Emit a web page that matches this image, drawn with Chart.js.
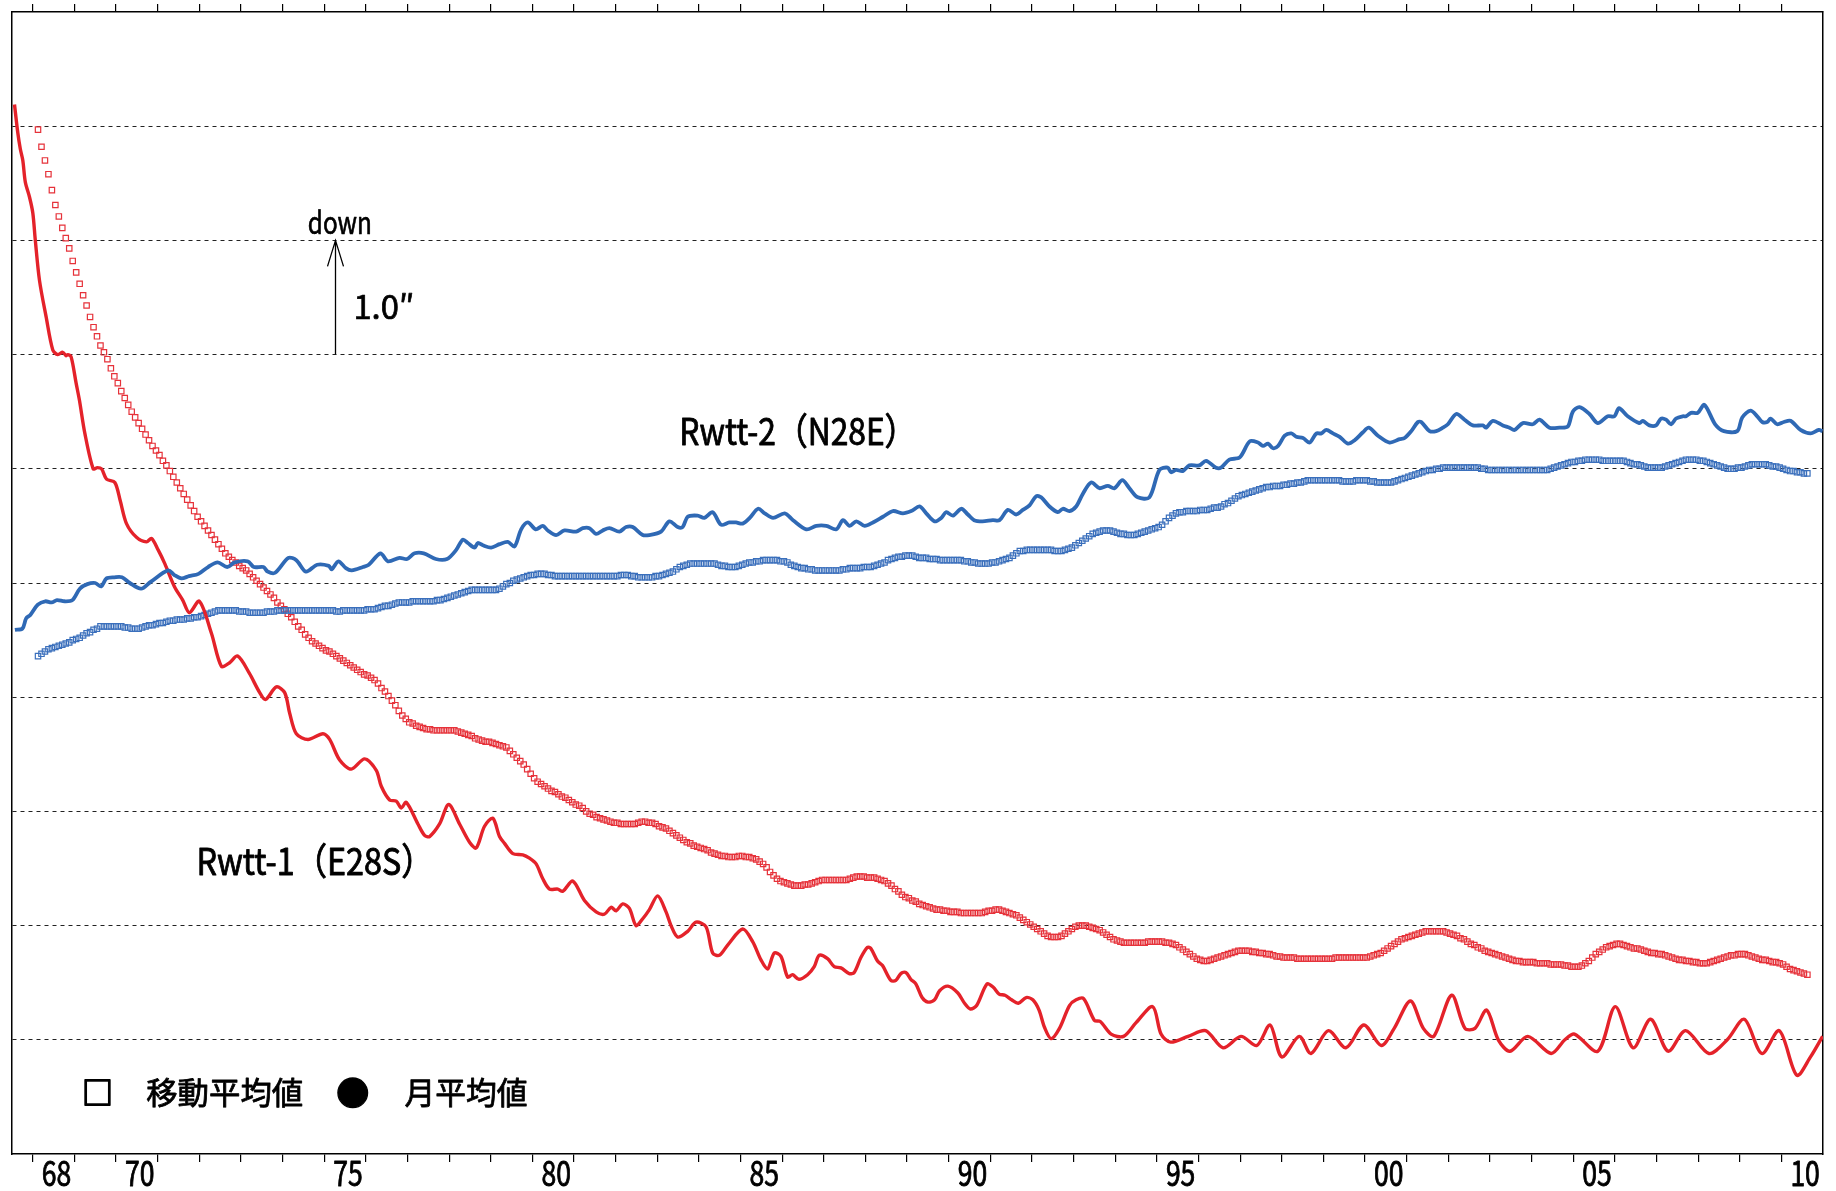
<!DOCTYPE html>
<html lang="ja">
<head>
<meta charset="utf-8">
<title>Rwtt-1 / Rwtt-2</title>
<script src="https://cdn.jsdelivr.net/npm/chart.js@4.4.1/dist/chart.umd.min.js"></script>
<style>
  html, body { margin: 0; padding: 0; background: #fff; }
  canvas { display: block; }
</style>
</head>
<body>
<canvas id="chart" width="1836" height="1191"></canvas>
<script>
// 値は 1 目盛 = 1.0″ の相対値（下が 0、上が 10）

const labelYears = [1968, 1970, 1975, 1980, 1985, 1990, 1995, 2000, 2005, 2010];
const seriesNames = ['Rwtt-1（E28S）', 'Rwtt-2（N28E）'];
const legendItems = ['□', '移動平均値', '●', '月平均値'];

// 月平均値 [年, 値]
const rwtt1Monthly = [
  [1967.56, 9.19], [1967.64, 8.94], [1967.70, 8.80], [1967.76, 8.70], [1967.82, 8.51], [1967.92, 8.38],
  [1968.00, 8.24], [1968.06, 8.00], [1968.16, 7.65], [1968.32, 7.33], [1968.48, 7.04], [1968.60, 7.00],
  [1968.72, 7.02], [1968.80, 6.99], [1968.84, 7.00], [1968.92, 6.98], [1969.04, 6.75], [1969.12, 6.60],
  [1969.25, 6.31], [1969.45, 6.00], [1969.55, 6.01], [1969.65, 6.00], [1969.77, 5.91], [1969.97, 5.88],
  [1970.10, 5.72], [1970.25, 5.52], [1970.49, 5.40], [1970.73, 5.36], [1970.85, 5.39], [1971.01, 5.29],
  [1971.17, 5.17], [1971.40, 4.97], [1971.60, 4.85], [1971.76, 4.74], [1972.00, 4.84], [1972.29, 4.56],
  [1972.53, 4.27], [1972.72, 4.30], [1972.92, 4.36], [1973.20, 4.21], [1973.45, 4.04], [1973.59, 3.98],
  [1973.85, 4.09], [1974.05, 4.04], [1974.17, 3.86], [1974.33, 3.68], [1974.61, 3.63], [1974.97, 3.68],
  [1975.13, 3.63], [1975.37, 3.45], [1975.65, 3.37], [1975.97, 3.46], [1976.25, 3.36], [1976.37, 3.22],
  [1976.57, 3.10], [1976.73, 3.09], [1976.85, 3.03], [1976.97, 3.08], [1977.25, 2.89], [1977.41, 2.79],
  [1977.53, 2.78], [1977.77, 2.89], [1977.99, 3.06], [1978.25, 2.89], [1978.49, 2.73], [1978.65, 2.68],
  [1978.85, 2.87], [1979.05, 2.94], [1979.21, 2.78], [1979.33, 2.72], [1979.53, 2.63], [1979.77, 2.62],
  [1979.93, 2.59], [1980.09, 2.54], [1980.25, 2.41], [1980.41, 2.32], [1980.61, 2.32], [1980.73, 2.30],
  [1980.97, 2.39], [1981.25, 2.22], [1981.53, 2.12], [1981.73, 2.10], [1981.89, 2.16], [1982.01, 2.13],
  [1982.17, 2.19], [1982.33, 2.15], [1982.49, 2.00], [1982.65, 2.06], [1982.81, 2.14], [1983.01, 2.26],
  [1983.21, 2.12], [1983.33, 2.00], [1983.49, 1.90], [1983.73, 1.95], [1983.93, 2.03], [1984.17, 1.99],
  [1984.33, 1.76], [1984.49, 1.74], [1984.69, 1.83], [1985.05, 1.97], [1985.29, 1.86], [1985.49, 1.70],
  [1985.65, 1.62], [1985.81, 1.76], [1985.97, 1.73], [1986.13, 1.55], [1986.25, 1.57], [1986.40, 1.53],
  [1986.61, 1.57], [1986.77, 1.64], [1986.89, 1.74], [1987.09, 1.71], [1987.25, 1.64], [1987.41, 1.63],
  [1987.61, 1.58], [1987.73, 1.59], [1987.89, 1.72], [1988.05, 1.81], [1988.13, 1.80], [1988.29, 1.69],
  [1988.41, 1.65], [1988.61, 1.52], [1988.73, 1.52], [1988.85, 1.58], [1988.97, 1.59], [1989.09, 1.53],
  [1989.21, 1.49], [1989.36, 1.37], [1989.50, 1.33], [1989.66, 1.35], [1989.78, 1.43], [1989.98, 1.47],
  [1990.22, 1.41], [1990.38, 1.32], [1990.52, 1.27], [1990.67, 1.30], [1990.92, 1.49], [1991.07, 1.46],
  [1991.21, 1.40], [1991.35, 1.39], [1991.51, 1.35], [1991.67, 1.32], [1991.86, 1.37], [1992.02, 1.35],
  [1992.17, 1.26], [1992.30, 1.11], [1992.46, 1.01], [1992.66, 1.10], [1992.90, 1.30], [1993.06, 1.35],
  [1993.24, 1.36], [1993.50, 1.17], [1993.64, 1.16], [1993.90, 1.05], [1994.20, 1.03], [1994.50, 1.15],
  [1994.90, 1.29], [1995.10, 1.05], [1995.33, 0.98], [1995.75, 1.03], [1996.17, 1.08], [1996.59, 0.93],
  [1997.02, 1.03], [1997.40, 0.95], [1997.72, 1.13], [1998.00, 0.85], [1998.42, 1.03], [1998.70, 0.88],
  [1999.12, 1.08], [1999.54, 0.93], [1999.97, 1.13], [2000.39, 0.95], [2000.70, 1.10], [2001.09, 1.34],
  [2001.40, 1.10], [2001.65, 1.03], [2002.08, 1.39], [2002.40, 1.10], [2002.64, 1.10], [2002.92, 1.26],
  [2003.20, 1.00], [2003.48, 0.90], [2003.91, 1.03], [2004.47, 0.88], [2004.80, 1.00], [2005.03, 1.05],
  [2005.59, 0.90], [2006.01, 1.29], [2006.44, 0.93], [2006.86, 1.18], [2007.28, 0.90], [2007.70, 1.08],
  [2008.26, 0.88], [2008.70, 1.00], [2009.11, 1.18], [2009.53, 0.88], [2009.95, 1.08], [2010.37, 0.69],
  [2010.70, 0.85], [2010.99, 1.03]
];

const rwtt2Monthly = [
  [1967.57, 4.59], [1967.75, 4.60], [1967.84, 4.69], [1967.94, 4.72], [1968.12, 4.81], [1968.30, 4.84],
  [1968.45, 4.83], [1968.58, 4.85], [1968.76, 4.84], [1968.95, 4.85], [1969.13, 4.95], [1969.31, 4.99],
  [1969.50, 5.00], [1969.64, 4.97], [1969.77, 5.04], [1969.96, 5.05], [1970.14, 5.05], [1970.33, 5.00],
  [1970.60, 4.95], [1970.83, 5.01], [1971.25, 5.11], [1971.40, 5.07], [1971.57, 5.04], [1971.75, 5.06],
  [1971.98, 5.08], [1972.21, 5.14], [1972.44, 5.18], [1972.67, 5.14], [1972.85, 5.18], [1973.16, 5.19],
  [1973.31, 5.14], [1973.54, 5.14], [1973.64, 5.10], [1973.82, 5.09], [1974.14, 5.22], [1974.33, 5.20],
  [1974.56, 5.10], [1974.83, 5.16], [1975.11, 5.15], [1975.18, 5.12], [1975.34, 5.19], [1975.52, 5.13],
  [1975.66, 5.11], [1975.93, 5.14], [1976.07, 5.16], [1976.35, 5.26], [1976.53, 5.19], [1976.81, 5.22],
  [1976.99, 5.21], [1977.17, 5.26], [1977.39, 5.26], [1977.68, 5.21], [1977.95, 5.21], [1978.17, 5.29],
  [1978.33, 5.38], [1978.45, 5.35], [1978.61, 5.31], [1978.69, 5.35], [1978.81, 5.33], [1979.01, 5.31],
  [1979.21, 5.34], [1979.41, 5.36], [1979.57, 5.32], [1979.73, 5.47], [1979.89, 5.53], [1980.08, 5.47],
  [1980.25, 5.50], [1980.37, 5.46], [1980.57, 5.42], [1980.77, 5.46], [1981.05, 5.45], [1981.21, 5.48],
  [1981.37, 5.48], [1981.53, 5.43], [1981.69, 5.46], [1981.85, 5.48], [1982.09, 5.45], [1982.25, 5.49],
  [1982.41, 5.49], [1982.65, 5.42], [1982.81, 5.42], [1983.09, 5.45], [1983.29, 5.54], [1983.49, 5.49],
  [1983.61, 5.49], [1983.73, 5.58], [1983.97, 5.59], [1984.13, 5.57], [1984.33, 5.62], [1984.53, 5.51],
  [1984.73, 5.53], [1984.89, 5.53], [1985.05, 5.52], [1985.22, 5.57], [1985.42, 5.65], [1985.58, 5.61],
  [1985.78, 5.57], [1986.06, 5.61], [1986.26, 5.55], [1986.58, 5.47], [1986.82, 5.50], [1987.06, 5.50],
  [1987.30, 5.47], [1987.46, 5.55], [1987.62, 5.50], [1987.78, 5.54], [1987.98, 5.50], [1988.18, 5.53],
  [1988.42, 5.58], [1988.66, 5.63], [1988.90, 5.61], [1989.10, 5.63], [1989.30, 5.67], [1989.46, 5.61],
  [1989.66, 5.54], [1989.82, 5.57], [1989.94, 5.62], [1990.10, 5.59], [1990.30, 5.65], [1990.46, 5.60],
  [1990.61, 5.55], [1990.81, 5.54], [1991.06, 5.55], [1991.22, 5.55], [1991.42, 5.64], [1991.62, 5.60],
  [1991.78, 5.64], [1991.94, 5.68], [1992.10, 5.76], [1992.22, 5.75], [1992.42, 5.67], [1992.62, 5.62],
  [1992.74, 5.65], [1992.90, 5.63], [1993.06, 5.67], [1993.22, 5.78], [1993.42, 5.88], [1993.62, 5.83],
  [1993.82, 5.85], [1993.98, 5.83], [1994.17, 5.90], [1994.34, 5.83], [1994.54, 5.75], [1994.82, 5.75],
  [1995.06, 5.99], [1995.26, 6.01], [1995.34, 5.97], [1995.46, 5.99], [1995.62, 5.98], [1995.78, 6.03],
  [1996.02, 6.03], [1996.18, 6.07], [1996.42, 6.01], [1996.54, 6.01], [1996.74, 6.08], [1996.99, 6.10],
  [1997.23, 6.24], [1997.43, 6.23], [1997.55, 6.20], [1997.67, 6.22], [1997.79, 6.18], [1997.91, 6.20],
  [1998.07, 6.29], [1998.23, 6.31], [1998.35, 6.28], [1998.51, 6.27], [1998.67, 6.23], [1998.83, 6.31],
  [1998.95, 6.31], [1999.07, 6.34], [1999.23, 6.31], [1999.39, 6.28], [1999.59, 6.22], [1999.75, 6.25],
  [1999.95, 6.32], [2000.09, 6.36], [2000.31, 6.29], [2000.59, 6.23], [2000.83, 6.26], [2000.95, 6.27],
  [2001.11, 6.33], [2001.27, 6.41], [2001.35, 6.41], [2001.55, 6.33], [2001.71, 6.33], [2001.87, 6.36],
  [2001.99, 6.39], [2002.19, 6.48], [2002.39, 6.43], [2002.59, 6.38], [2002.83, 6.38], [2002.91, 6.36],
  [2003.07, 6.42], [2003.31, 6.38], [2003.47, 6.36], [2003.59, 6.34], [2003.79, 6.40], [2004.03, 6.39],
  [2004.19, 6.43], [2004.43, 6.36], [2004.67, 6.36], [2004.87, 6.37], [2004.99, 6.50], [2005.15, 6.54],
  [2005.39, 6.48], [2005.59, 6.40], [2005.83, 6.46], [2005.99, 6.46], [2006.10, 6.53], [2006.31, 6.46],
  [2006.59, 6.40], [2006.67, 6.42], [2006.83, 6.38], [2006.99, 6.38], [2007.11, 6.44], [2007.23, 6.43],
  [2007.35, 6.39], [2007.47, 6.44], [2007.63, 6.46], [2007.71, 6.46], [2007.83, 6.49], [2007.99, 6.49],
  [2008.15, 6.56], [2008.41, 6.39], [2008.62, 6.33], [2008.94, 6.33], [2009.06, 6.45], [2009.26, 6.51],
  [2009.42, 6.46], [2009.54, 6.41], [2009.66, 6.41], [2009.74, 6.44], [2009.90, 6.39], [2010.06, 6.41],
  [2010.22, 6.42], [2010.46, 6.34], [2010.70, 6.31], [2010.90, 6.34], [2010.99, 6.33]
];

// 移動平均値（月ごと、1968年2月から）
const maStart = 1968.125;

const rwtt1MovingAvg = [
  8.97, 8.82, 8.70, 8.58, 8.44, 8.31, 8.21, 8.11, 8.02, 7.93, 7.82, 7.72,
  7.62, 7.52, 7.43, 7.33, 7.24, 7.16, 7.08, 7.02, 6.96, 6.88, 6.81, 6.75,
  6.68, 6.62, 6.56, 6.50, 6.45, 6.40, 6.35, 6.30, 6.25, 6.20, 6.16, 6.12,
  6.07, 6.03, 5.98, 5.93, 5.88, 5.83, 5.78, 5.73, 5.68, 5.63, 5.58, 5.54,
  5.50, 5.46, 5.42, 5.38, 5.34, 5.30, 5.26, 5.23, 5.20, 5.18, 5.15, 5.13,
  5.11, 5.08, 5.05, 5.02, 4.99, 4.96, 4.93, 4.90, 4.87, 4.83, 4.80, 4.77,
  4.73, 4.70, 4.66, 4.62, 4.59, 4.55, 4.52, 4.49, 4.47, 4.45, 4.43, 4.41,
  4.40, 4.38, 4.36, 4.34, 4.32, 4.30, 4.28, 4.26, 4.24, 4.22, 4.20, 4.19,
  4.17, 4.15, 4.12, 4.08, 4.05, 4.01, 3.97, 3.93, 3.88, 3.84, 3.81, 3.78,
  3.77, 3.75, 3.74, 3.73, 3.72, 3.72, 3.71, 3.71, 3.71, 3.71, 3.71, 3.71,
  3.71, 3.70, 3.69, 3.68, 3.67, 3.66, 3.64, 3.63, 3.62, 3.61, 3.61, 3.60,
  3.59, 3.58, 3.57, 3.56, 3.53, 3.50, 3.47, 3.44, 3.41, 3.37, 3.33, 3.29,
  3.26, 3.24, 3.22, 3.20, 3.18, 3.17, 3.15, 3.13, 3.12, 3.10, 3.08, 3.06,
  3.05, 3.03, 3.00, 2.98, 2.97, 2.95, 2.94, 2.93, 2.92, 2.91, 2.90, 2.90,
  2.89, 2.89, 2.89, 2.89, 2.89, 2.90, 2.91, 2.91, 2.90, 2.90, 2.89, 2.87,
  2.86, 2.85, 2.83, 2.81, 2.79, 2.77, 2.75, 2.73, 2.72, 2.70, 2.69, 2.68,
  2.67, 2.66, 2.64, 2.63, 2.62, 2.61, 2.61, 2.60, 2.60, 2.60, 2.61, 2.61,
  2.60, 2.60, 2.59, 2.58, 2.56, 2.54, 2.51, 2.47, 2.44, 2.41, 2.39, 2.38,
  2.37, 2.36, 2.35, 2.35, 2.35, 2.36, 2.36, 2.37, 2.38, 2.39, 2.40, 2.40,
  2.40, 2.40, 2.40, 2.40, 2.40, 2.40, 2.41, 2.42, 2.43, 2.43, 2.43, 2.42,
  2.42, 2.42, 2.41, 2.40, 2.39, 2.37, 2.35, 2.32, 2.30, 2.27, 2.25, 2.24,
  2.22, 2.21, 2.19, 2.18, 2.17, 2.16, 2.15, 2.14, 2.14, 2.13, 2.13, 2.12,
  2.12, 2.12, 2.11, 2.11, 2.11, 2.11, 2.11, 2.11, 2.11, 2.12, 2.13, 2.13,
  2.14, 2.14, 2.13, 2.12, 2.11, 2.10, 2.09, 2.07, 2.05, 2.03, 2.01, 1.99,
  1.97, 1.95, 1.93, 1.91, 1.90, 1.90, 1.90, 1.91, 1.93, 1.95, 1.97, 1.99,
  2.00, 2.00, 2.00, 1.99, 1.98, 1.97, 1.96, 1.94, 1.92, 1.90, 1.88, 1.87,
  1.86, 1.85, 1.85, 1.85, 1.85, 1.85, 1.85, 1.85, 1.86, 1.86, 1.86, 1.86,
  1.86, 1.85, 1.85, 1.84, 1.83, 1.81, 1.79, 1.77, 1.75, 1.73, 1.71, 1.70,
  1.69, 1.69, 1.70, 1.71, 1.72, 1.73, 1.74, 1.75, 1.76, 1.77, 1.78, 1.78,
  1.78, 1.78, 1.77, 1.77, 1.76, 1.76, 1.75, 1.75, 1.74, 1.73, 1.73, 1.72,
  1.72, 1.72, 1.72, 1.71, 1.71, 1.71, 1.71, 1.71, 1.71, 1.71, 1.71, 1.71,
  1.71, 1.71, 1.72, 1.72, 1.72, 1.72, 1.72, 1.72, 1.72, 1.72, 1.72, 1.72,
  1.73, 1.74, 1.75, 1.76, 1.78, 1.80, 1.82, 1.84, 1.86, 1.88, 1.89, 1.90,
  1.91, 1.92, 1.93, 1.94, 1.95, 1.95, 1.95, 1.95, 1.95, 1.95, 1.94, 1.93,
  1.92, 1.91, 1.89, 1.88, 1.86, 1.84, 1.83, 1.81, 1.80, 1.78, 1.77, 1.76,
  1.75, 1.74, 1.73, 1.72, 1.71, 1.70, 1.69, 1.69, 1.68, 1.68, 1.68, 1.68,
  1.67, 1.67, 1.67, 1.67, 1.66, 1.66, 1.66, 1.66, 1.65, 1.65, 1.64, 1.64,
  1.64, 1.65, 1.67, 1.69, 1.72, 1.75, 1.77, 1.79, 1.81, 1.82, 1.83, 1.84,
  1.84, 1.83, 1.82, 1.81, 1.80, 1.80, 1.79, 1.78, 1.77, 1.76, 1.76, 1.75,
  1.75, 1.74, 1.73, 1.72, 1.71, 1.70, 1.70, 1.69, 1.69, 1.68, 1.68, 1.67,
  1.67, 1.67, 1.68, 1.69, 1.70, 1.71, 1.72, 1.73, 1.74, 1.74, 1.75, 1.75,
  1.75, 1.74, 1.73, 1.72, 1.71, 1.70, 1.70, 1.69, 1.68, 1.68, 1.67, 1.66,
  1.64, 1.62, 1.61, 1.60, 1.59, 1.58, 1.57
];

const rwtt2MovingAvg = [
  4.36, 4.38, 4.40, 4.42, 4.43, 4.44, 4.45, 4.46, 4.47, 4.48, 4.50, 4.51,
  4.52, 4.54, 4.56, 4.57, 4.59, 4.60, 4.62, 4.62, 4.62, 4.62, 4.62, 4.62,
  4.62, 4.61, 4.61, 4.60, 4.60, 4.60, 4.61, 4.62, 4.63, 4.63, 4.64, 4.65,
  4.65, 4.66, 4.67, 4.67, 4.68, 4.68, 4.68, 4.69, 4.69, 4.70, 4.70, 4.71,
  4.72, 4.73, 4.74, 4.75, 4.76, 4.76, 4.76, 4.76, 4.76, 4.76, 4.75, 4.75,
  4.75, 4.74, 4.74, 4.74, 4.74, 4.74, 4.75, 4.75, 4.75, 4.76, 4.76, 4.76,
  4.76, 4.76, 4.76, 4.76, 4.76, 4.76, 4.76, 4.76, 4.76, 4.76, 4.76, 4.76,
  4.76, 4.76, 4.75, 4.75, 4.76, 4.76, 4.76, 4.76, 4.76, 4.76, 4.76, 4.77,
  4.77, 4.77, 4.78, 4.79, 4.80, 4.80, 4.81, 4.82, 4.83, 4.83, 4.83, 4.83,
  4.84, 4.84, 4.84, 4.84, 4.84, 4.84, 4.84, 4.85, 4.85, 4.86, 4.87, 4.88,
  4.89, 4.90, 4.91, 4.92, 4.93, 4.94, 4.94, 4.94, 4.94, 4.94, 4.94, 4.94,
  4.94, 4.95, 4.97, 4.99, 5.00, 5.02, 5.03, 5.04, 5.05, 5.06, 5.07, 5.07,
  5.08, 5.08, 5.08, 5.07, 5.07, 5.06, 5.06, 5.06, 5.06, 5.06, 5.06, 5.06,
  5.06, 5.06, 5.06, 5.06, 5.06, 5.06, 5.06, 5.06, 5.06, 5.06, 5.06, 5.06,
  5.07, 5.07, 5.07, 5.06, 5.06, 5.05, 5.05, 5.05, 5.05, 5.05, 5.06, 5.06,
  5.07, 5.08, 5.09, 5.10, 5.12, 5.14, 5.15, 5.16, 5.17, 5.17, 5.17, 5.17,
  5.17, 5.17, 5.17, 5.17, 5.16, 5.15, 5.15, 5.14, 5.14, 5.14, 5.15, 5.16,
  5.17, 5.18, 5.18, 5.19, 5.19, 5.20, 5.20, 5.20, 5.20, 5.20, 5.19, 5.19,
  5.18, 5.16, 5.15, 5.14, 5.13, 5.13, 5.12, 5.12, 5.11, 5.11, 5.11, 5.11,
  5.11, 5.11, 5.11, 5.11, 5.12, 5.12, 5.13, 5.13, 5.13, 5.13, 5.14, 5.14,
  5.14, 5.15, 5.16, 5.17, 5.18, 5.20, 5.21, 5.22, 5.23, 5.23, 5.24, 5.24,
  5.24, 5.23, 5.22, 5.22, 5.22, 5.21, 5.21, 5.21, 5.20, 5.20, 5.20, 5.20,
  5.20, 5.20, 5.20, 5.19, 5.19, 5.18, 5.18, 5.17, 5.17, 5.17, 5.17, 5.18,
  5.18, 5.19, 5.20, 5.21, 5.22, 5.24, 5.26, 5.28, 5.28, 5.29, 5.29, 5.29,
  5.29, 5.29, 5.29, 5.29, 5.29, 5.28, 5.28, 5.28, 5.29, 5.30, 5.31, 5.33,
  5.35, 5.37, 5.39, 5.41, 5.43, 5.44, 5.45, 5.46, 5.46, 5.46, 5.45, 5.44,
  5.43, 5.43, 5.42, 5.42, 5.42, 5.43, 5.44, 5.45, 5.46, 5.47, 5.48, 5.49,
  5.51, 5.54, 5.57, 5.59, 5.61, 5.62, 5.62, 5.63, 5.63, 5.63, 5.63, 5.64,
  5.64, 5.64, 5.65, 5.66, 5.66, 5.67, 5.69, 5.70, 5.72, 5.74, 5.76, 5.77,
  5.78, 5.79, 5.80, 5.81, 5.82, 5.83, 5.84, 5.84, 5.85, 5.85, 5.85, 5.86,
  5.86, 5.87, 5.87, 5.88, 5.88, 5.89, 5.90, 5.90, 5.90, 5.90, 5.90, 5.90,
  5.90, 5.90, 5.90, 5.90, 5.89, 5.89, 5.89, 5.89, 5.90, 5.90, 5.90, 5.90,
  5.89, 5.89, 5.88, 5.88, 5.88, 5.88, 5.88, 5.89, 5.90, 5.91, 5.92, 5.93,
  5.94, 5.95, 5.96, 5.97, 5.98, 5.99, 5.99, 6.00, 6.00, 6.01, 6.01, 6.01,
  6.01, 6.01, 6.01, 6.01, 6.01, 6.01, 6.01, 6.01, 6.00, 6.00, 5.99, 5.99,
  5.99, 5.99, 5.99, 5.99, 5.99, 5.99, 5.99, 5.99, 5.99, 5.99, 5.99, 5.99,
  5.99, 5.99, 5.99, 5.99, 6.00, 6.01, 6.02, 6.03, 6.04, 6.05, 6.06, 6.06,
  6.07, 6.07, 6.08, 6.08, 6.08, 6.08, 6.08, 6.07, 6.07, 6.07, 6.07, 6.07,
  6.07, 6.07, 6.06, 6.05, 6.04, 6.04, 6.03, 6.02, 6.01, 6.01, 6.01, 6.01,
  6.01, 6.02, 6.03, 6.04, 6.05, 6.06, 6.07, 6.08, 6.08, 6.08, 6.08, 6.07,
  6.07, 6.06, 6.05, 6.04, 6.03, 6.02, 6.01, 6.00, 6.00, 6.00, 6.01, 6.01,
  6.02, 6.03, 6.04, 6.04, 6.04, 6.04, 6.04, 6.03, 6.02, 6.02, 6.01, 6.00,
  5.99, 5.98, 5.98, 5.97, 5.97, 5.96, 5.96
];

const RED = '#e4222a';
const BLUE = '#2f69b5';
const FONT = '"Noto Sans CJK JP", "Noto Sans", sans-serif';

const tickYears = [];
for (let yr = 1968; yr <= 2010; yr++) tickYears.push(yr);

const pairs = (list) => list.map(([x, y]) => ({ x, y }));
const monthly = (list) => list.map((y, i) => ({ x: maStart + i / 12, y }));

// 横に詰めた文字を描く（少し太らせる）
function drawText(ctx, text, x, y, size, sx, align, weight) {
    ctx.save();
    ctx.font = size + 'px ' + FONT;
    ctx.textAlign = align || 'left';
    ctx.translate(x, y);
    ctx.scale(sx, 1);
    ctx.fillText(text, 0, 0);
    ctx.lineWidth = weight === undefined ? 0.8 : weight;
    ctx.lineJoin = 'round';
    if (ctx.lineWidth > 0) ctx.strokeText(text, 0, 0);
    ctx.restore();
}

function measure(ctx, text, size) {
    ctx.save();
    ctx.font = size + 'px ' + FONT;
    const w = ctx.measureText(text).width;
    ctx.restore();
    return w;
}

const annotations = {
    id: 'annotations',
    afterDraw(chart) {
        const { ctx, chartArea } = chart;
        const x = chart.scales.x, y = chart.scales.y;
        ctx.save();
        ctx.fillStyle = '#000';
        ctx.strokeStyle = '#000';
        ctx.textBaseline = 'alphabetic';

        // 年ラベル（年の中央）
        labelYears.forEach(yr => {
            drawText(ctx, String(yr).slice(2), x.getPixelForValue(yr + 0.57), chartArea.bottom + 32, 34, 0.78, 'center', 0.9);
        });

        // 系列名（全角括弧の右余白を含めた幅）
        const nameSize = 37;
        [[seriesNames[1], 1983.53, 6.21], [seriesNames[0], 1971.93, 2.44]].forEach(([t, yr, v]) => {
            const sx = 237 / measure(ctx, t, nameSize);
            drawText(ctx, t, x.getPixelForValue(yr), y.getPixelForValue(v), nameSize, sx, 'left', 0.9);
        });

        // 1.0″ の矢印
        const ax = Math.round(x.getPixelForValue(1975.25)) + 0.5;
        const y0 = y.getPixelForValue(7), y1 = y.getPixelForValue(8);
        ctx.lineWidth = 1.3;
        ctx.beginPath();
        ctx.moveTo(ax, y0); ctx.lineTo(ax, y1);
        ctx.moveTo(ax - 8, y1 + 26); ctx.lineTo(ax, y1); ctx.lineTo(ax + 8, y1 + 26);
        ctx.stroke();
        drawText(ctx, 'down', x.getPixelForValue(1975.375), y.getPixelForValue(8.06), 31, 64 / measure(ctx, 'down', 31), 'center', 0.7);
        drawText(ctx, '1.0″', x.getPixelForValue(1975.70), y.getPixelForValue(7.31), 33, 61 / measure(ctx, '1.0″', 33), 'left', 0.7);

        // 凡例
        ctx.textBaseline = 'middle';
        const ly = y.getPixelForValue(0.543);
        drawText(ctx, legendItems[0], x.getPixelForValue(1969.555), ly, 31, 1, 'center', 1.6);
        drawText(ctx, legendItems[1], x.getPixelForValue(1970.724), ly, 31, 157 / measure(ctx, legendItems[1], 31), 'left', 0.8);
        drawText(ctx, legendItems[2], x.getPixelForValue(1975.687), ly, 33, 1, 'center', 0);
        drawText(ctx, legendItems[3], x.getPixelForValue(1976.93), ly, 31, 123 / measure(ctx, legendItems[3], 31), 'left', 0.8);
        ctx.restore();
    }
};

const lineStyle = { showLine: true, pointRadius: 0, tension: 0.3, fill: false };
const squareStyle = {
    showLine: false, pointStyle: 'rect', pointRadius: 3.8, pointBorderWidth: 1.2,
    pointBackgroundColor: 'rgba(0,0,0,0)'
};

const yearTicks = (axis) => { axis.ticks = tickYears.map(v => ({ value: v })); };
const edgeAxis = {
    min: 0, max: 10, ticks: { display: false },
    grid: { drawOnChartArea: false, drawTicks: false },
    border: { display: true, color: '#000', width: 1.5 }
};

new Chart(document.getElementById('chart'), {
    type: 'line',
    data: {
        datasets: [
            { ...lineStyle, label: 'Rwtt-2 月平均値', data: pairs(rwtt2Monthly), borderColor: BLUE, borderWidth: 3.8 },
            { ...lineStyle, label: 'Rwtt-1 月平均値', data: pairs(rwtt1Monthly), borderColor: RED, borderWidth: 3.4 },
            { ...squareStyle, label: 'Rwtt-2 移動平均値', data: monthly(rwtt2MovingAvg), pointBorderColor: '#3a6fbc' },
            { ...squareStyle, label: 'Rwtt-1 移動平均値', data: monthly(rwtt1MovingAvg), pointBorderColor: '#e6323a' }
        ]
    },
    options: {
        responsive: false,
        devicePixelRatio: 1,
        animation: false,
        layout: { padding: { left: 12, top: 4, right: 13, bottom: 29 } },
        plugins: { legend: { display: false }, tooltip: { enabled: false } },
        scales: {
            x: {
                type: 'linear', position: 'bottom', min: 1967.5, max: 2011,
                afterBuildTicks: yearTicks,
                ticks: { display: false },
                grid: { drawOnChartArea: false, drawTicks: true, tickLength: 8, color: '#000', lineWidth: 1.2 },
                border: { display: true, color: '#000', width: 1.5 }
            },
            xTop: {
                type: 'linear', position: 'top', min: 1967.5, max: 2011,
                afterBuildTicks: yearTicks,
                ticks: { display: false },
                grid: { drawOnChartArea: false, drawTicks: true, tickLength: 8, color: '#000', lineWidth: 1.2 },
                border: { display: true, color: '#000', width: 1.5 }
            },
            y: {
                type: 'linear', position: 'left', min: 0, max: 10,
                afterBuildTicks: (axis) => {
                    axis.ticks = [0, 1, 2, 3, 4, 5, 6, 7, 8, 9, 10].map(v => ({ value: v }));
                },
                ticks: { display: false },
                grid: {
                    drawTicks: false, lineWidth: 1,
                    color: (c) => (c.tick && (c.tick.value === 0 || c.tick.value === 10)) ? 'rgba(0,0,0,0)' : '#222'
                },
                border: { display: true, color: '#000', width: 1.5, dash: [4, 4] }
            },
            yRight: { type: 'linear', position: 'right', ...edgeAxis }
        }
    },
    plugins: [annotations]
});
</script>
</body>
</html>
